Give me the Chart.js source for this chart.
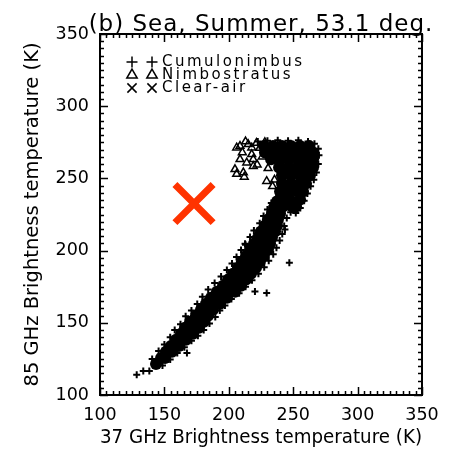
<!DOCTYPE html>
<html>
<head>
<meta charset="utf-8">
<script src="https://cdn.jsdelivr.net/npm/chart.js@4"></script>
<style>
html,body{margin:0;padding:0;background:#fff;}
#wrap{width:450px;height:450px;}
</style>
</head>
<body>
<div id="wrap"><canvas id="c" width="450" height="450"></canvas></div>
<script>
const titleText='(b) Sea, Summer, 53.1 deg.';
const xTitle='37 GHz Brightness temperature (K)';
const yTitle='85 GHz Brightness temperature (K)';
const axisMin=100,axisMax=350,majorStep=50,minorStep=5;
const legendNames=['Cumulonimbus','Nimbostratus','Clear-air'];

// dense part of the cumulonimbus cloud (marks overlap into a solid band)
const cbCore=[
[143.5,121.5],
[147.4,125.7],[150.5,125.7],
[151.2,129.9],[155.9,129.9],
[155.1,134.0],[161.3,134.0],
[159.0,138.2],[166.8,138.2],
[162.9,142.4],[167.5,142.4],[172.2,142.4],
[166.0,146.5],[171.4,146.5],[176.9,146.5],
[169.9,150.7],[175.3,150.7],[180.7,150.7],
[174.5,154.9],[179.2,154.9],[183.9,154.9],
[178.4,159.0],[183.1,159.0],[187.7,159.0],
[182.3,163.2],[187.7,163.2],[193.2,163.2],
[186.2,167.4],[192.4,167.4],[198.6,167.4],
[190.8,171.5],[197.8,171.5],[204.8,171.5],
[195.5,175.7],[202.5,175.7],[209.5,175.7],
[199.4,179.9],[206.4,179.9],[213.4,179.9],
[203.3,184.0],[210.2,184.0],[217.2,184.0],
[207.1,188.2],[214.1,188.2],[221.1,188.2],
[210.2,192.4],[217.2,192.4],[224.2,192.4],
[213.4,196.5],[220.3,196.5],[227.3,196.5],
[216.5,200.7],[223.4,200.7],[230.4,200.7],
[219.6,204.9],[225.8,204.9],[232.0,204.9],
[222.7,209.0],[228.1,209.0],[233.5,209.0],
[225.0,213.2],[230.4,213.2],[235.9,213.2],
[228.1,217.4],[232.8,217.4],[237.4,217.4],
[230.4,221.5],[238.2,221.5],
[233.5,225.7],[239.8,225.7],
[235.1,229.9],[242.1,230.6],[249.1,230.6],[252.2,230.6],
[237.4,234.0],[240.5,235.4],[247.5,235.4],[255.3,235.4],
[239.8,241.0],[246.7,241.0],[253.7,241.0],[257.6,241.0],
[241.3,246.5],[248.3,246.5],[255.3,246.5],[259.9,246.5],
[241.3,252.1],[248.3,252.1],[255.3,252.1],[263.0,252.1],
[239.0,257.6],[246.0,257.6],[253.0,257.6],[259.9,257.6],[265.4,257.6],
[232.8,263.2],[239.8,263.2],[246.7,263.2],[253.7,263.2],[260.7,263.2],[265.4,263.2],
[228.1,268.0],[235.1,268.0],[242.1,268.0],[249.1,268.0],[256.0,268.0],[263.0,268.0],[265.4,268.0],
[227.3,272.5],[234.3,272.5],[241.3,272.5],[248.3,272.5],[255.3,272.5],[262.3,272.5]
];
// single cumulonimbus points along the edges and outliers
const cbEdge=[
[128.5,114.0],[133.6,116.7],[138.3,116.7],[167.5,129.0],[220.3,171.7],[229.4,170.6],[247.0,191.5],[212.6,204.8],[243.6,214.6],
[140.5,125.0],[145.5,130.5],[150.0,135.0],[154.5,140.0],[158.0,145.0],[162.5,149.0],[166.5,154.5],[171.0,158.5],[175.5,163.0],
[179.5,168.0],[184.0,173.0],[189.0,177.5],[194.0,182.0],[198.5,186.5],[202.5,191.0],[206.0,195.5],[209.5,200.5],[213.0,204.0],
[216.5,209.5],[219.5,214.0],[222.9,212.3],[224.0,219.0],[227.0,224.0],[230.0,228.5],[233.0,233.0],
[148.5,120.5],[154.5,124.5],[160.0,129.0],[165.5,133.0],[171.0,137.5],[176.0,141.0],[180.5,145.0],[185.0,149.5],[189.5,154.0],
[193.0,158.5],[197.0,162.0],[202.0,166.5],[208.0,170.5],[213.0,175.0],[218.0,179.5],[223.0,184.0],[227.5,188.5],[231.0,193.0],
[234.5,197.5],[237.0,202.0],[239.5,207.0],[241.5,211.5],[243.0,217.0],[239.8,226.2],[245.0,222.5],[237.2,236.6],
[222.5,275.5],[230.0,276.0],[238.0,276.5],[246.0,276.0],[254.0,276.5],[261.5,275.5],[266.5,274.0],[269.5,270.5],[270.0,266.0],
[269.5,260.0],[268.0,254.0],[266.0,249.0],[263.5,244.5],[261.0,239.5],[258.5,234.5],[255.5,229.5],[252.0,226.0],[248.0,226.5]
];
const nsPts=[
[206.1,271.3],[208.7,272.4],[215.1,273.6],[217.8,271.3],[208.7,263.2],[213.9,260.9],[219.0,263.2],[219.0,258.5],[217.8,266.7],
[204.8,256.3],[206.1,253.0],[211.3,254.0],[212.0,251.0],[229.4,248.1],[238.4,237.7],[224.0,271.0],[226.0,265.0],[222.0,259.5],
[230.5,257.0],[235.5,249.0],[228.0,275.0],[210.5,268.0],[221.5,274.5],[213.0,275.5],[234.0,244.5]
];
const clearPts=[];
const redMark=[[173,232.6]];

const toXY=a=>a.map(p=>({x:p[0],y:p[1]}));
const FONT='DejaVu Sans';

const frame={
  id:'frame',
  afterDraw(chart){
    const ctx=chart.ctx,a=chart.chartArea,xs=chart.scales.x,ys=chart.scales.y;
    ctx.save();
    ctx.strokeStyle='#000';ctx.lineWidth=2;
    ctx.strokeRect(a.left,a.top,a.right-a.left,a.bottom-a.top);
    ctx.lineWidth=1.5;
    ctx.beginPath();
    for(let v=axisMin;v<=axisMax;v+=minorStep){
      const len=v%majorStep===0?8:4;
      const px=Math.round(xs.getPixelForValue(v))+0.5,py=Math.round(ys.getPixelForValue(v))+0.5;
      ctx.moveTo(px,a.bottom);ctx.lineTo(px,a.bottom-len);
      ctx.moveTo(px,a.top);ctx.lineTo(px,a.top+len);
      ctx.moveTo(a.left,py);ctx.lineTo(a.left+len,py);
      ctx.moveTo(a.right,py);ctx.lineTo(a.right-len,py);
    }
    ctx.stroke();
    // title
    ctx.fillStyle='#000';
    ctx.font='23px "'+FONT+'"';
    try{ctx.letterSpacing='1px';}catch(e){}
    ctx.textAlign='center';ctx.textBaseline='alphabetic';
    ctx.fillText(titleText,261,31);
    // legend
    const rows=[{s:'cross',r:5.5},{s:'triangle',r:6},{s:'crossRot',r:6.5}];
    ctx.font='15px "'+FONT+'"';
    ctx.textAlign='left';ctx.textBaseline='middle';
    try{ctx.letterSpacing='2.5px';}catch(e){}
    rows.forEach((row,i)=>{
      const y=62+i*13;
      ctx.lineWidth=1.5;ctx.fillStyle='rgba(0,0,0,0)';
      [132,152].forEach(x=>Chart.helpers.drawPoint(ctx,{pointStyle:row.s,radius:row.r,rotation:0,borderWidth:1.5},x,y));
      ctx.fillStyle='#000';
      ctx.fillText(legendNames[i],162,y);
    });
    try{ctx.letterSpacing='0px';}catch(e){}
    ctx.restore();
  }
};

new Chart(document.getElementById('c'),{
  type:'scatter',
  data:{datasets:[
    {label:'mark',data:toXY(redMark),pointStyle:'crossRot',pointRadius:27,borderColor:'#ff3300',borderWidth:7},
    {label:legendNames[1],data:toXY(nsPts),pointStyle:'triangle',pointRadius:4.5,borderColor:'#000',backgroundColor:'rgba(0,0,0,0)',borderWidth:1.5},
    {label:legendNames[2],data:toXY(clearPts),pointStyle:'crossRot',pointRadius:4,borderColor:'#000',borderWidth:1.5},
    {label:legendNames[0],data:toXY(cbEdge),pointStyle:'cross',pointRadius:3.5,borderColor:'#000',borderWidth:2},
    {label:legendNames[0]+' core',data:toXY(cbCore),pointStyle:'circle',pointRadius:6,backgroundColor:'#000',borderWidth:0}
  ]},
  options:{
    responsive:false,animation:false,devicePixelRatio:1,events:[],
    layout:{autoPadding:false,padding:{top:34,right:28,left:0,bottom:0}},
    plugins:{legend:{display:false},tooltip:{enabled:false},title:{display:false}},
    scales:{
      x:{type:'linear',min:axisMin,max:axisMax,
        afterFit(s){s.height=55;s.paddingLeft=0;s.paddingRight=0;},
        grid:{display:false,drawTicks:false},border:{display:false},
        ticks:{stepSize:majorStep,color:'#000',font:{family:FONT,size:17.5},padding:10,maxRotation:0},
        title:{display:true,text:xTitle,color:'#000',font:{family:FONT,size:19.5},padding:{top:0,bottom:0}}},
      y:{type:'linear',min:axisMin,max:axisMax,
        afterFit(s){s.width=100;},
        grid:{display:false,drawTicks:false},border:{display:false},
        ticks:{stepSize:majorStep,color:'#000',font:{family:FONT,size:17.5},padding:11},
        title:{display:true,text:yTitle,color:'#000',font:{family:FONT,size:19.5},padding:{top:21,bottom:0}}}
    }
  },
  plugins:[frame]
});
</script>
</body>
</html>
